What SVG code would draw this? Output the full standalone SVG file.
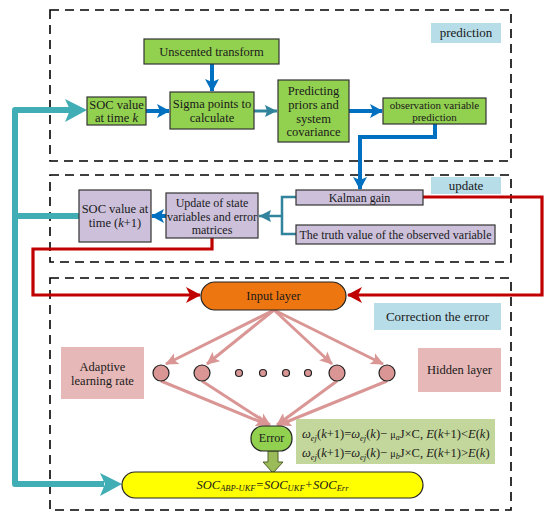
<svg xmlns="http://www.w3.org/2000/svg" width="550" height="517" viewBox="0 0 550 517" font-family="'Liberation Serif', 'DejaVu Serif', serif">
<defs>
<style>
text{font-family:'Liberation Serif','DejaVu Serif',serif;fill:#1a1a1a}
.dash{fill:none;stroke:#000;stroke-width:1.6;stroke-dasharray:9,6}
.g{fill:#92d050;stroke:#333;stroke-width:1.2}
.p{fill:#ccc0da;stroke:#333;stroke-width:1.2}
.lb{fill:#b7dde8}
.blue{fill:none;stroke:#0070c0;stroke-width:4}
.red{fill:none;stroke:#c00000;stroke-width:3.2}
.teal{fill:none;stroke:#41adb4;stroke-width:6;stroke-linejoin:round}
.pink{fill:none;stroke:#d99694;stroke-width:3}
.neu{fill:#d99694;stroke:#222;stroke-width:1.2}
</style>
<marker id="ab" markerUnits="userSpaceOnUse" markerWidth="14" markerHeight="14" refX="12" refY="7" orient="auto"><path d="M0,0 L13,7 L0,14 L3,7 Z" fill="#0070c0"/></marker>
<marker id="at" markerUnits="userSpaceOnUse" markerWidth="14" markerHeight="14" refX="12" refY="7" orient="auto"><path d="M0,1 L12,7 L0,13 L2,7 Z" fill="#31849b"/></marker>
<marker id="ar" markerUnits="userSpaceOnUse" markerWidth="16" markerHeight="16" refX="14" refY="8" orient="auto"><path d="M0,0 L15,8 L0,16 L4,8 Z" fill="#c00000"/></marker>
<marker id="ap" markerUnits="userSpaceOnUse" markerWidth="14" markerHeight="14" refX="12" refY="7" orient="auto"><path d="M0,1 L13,7 L0,13 L3,7 Z" fill="#d99694"/></marker>
</defs>
<rect width="550" height="517" fill="#fff"/>

<rect class="dash" x="50" y="10" width="461" height="151"/>
<rect class="dash" x="50" y="175" width="461" height="87"/>
<rect class="dash" x="50" y="278" width="461" height="232"/>

<g id="connectors">
<path class="teal" d="M72,110 L15,110 L15,484 L104,484"/>
<path class="teal" d="M82,216 L15,216" stroke-linecap="round"/>
<path d="M65,99 L87,110 L65,122 L70,110 Z" fill="#41adb4"/>
<path d="M100,473 L122,484 L100,496 L105,484 Z" fill="#41adb4"/>
<line class="blue" x1="212" y1="64" x2="212" y2="91" marker-end="url(#ab)"/>
<line class="blue" x1="146" y1="111" x2="169" y2="111" marker-end="url(#ab)"/>
<line x1="254" y1="111" x2="277" y2="111" stroke="#31849b" stroke-width="3" marker-end="url(#at)"/>
<line class="blue" x1="349" y1="111" x2="382" y2="111" marker-end="url(#ab)"/>
<path class="blue" d="M435,124 L435,137 L360,137 L360,189" marker-end="url(#ab)"/>
<path d="M296,197 L282,197 L282,234 L296,234" fill="none" stroke="#31849b" stroke-width="2.5"/>
<line x1="282" y1="216" x2="259" y2="216" stroke="#31849b" stroke-width="2.5" marker-end="url(#at)"/>
<line class="blue" x1="166" y1="216" x2="152" y2="216" marker-end="url(#ab)"/>
<path class="red" d="M212,238 L212,249 L33,249 L33,295 L200,295" marker-end="url(#ar)"/>
<path class="red" d="M423,197 L542,197 L542,295 L348,295" marker-end="url(#ar)"/>
<line class="pink" x1="274" y1="310" x2="166" y2="364" marker-end="url(#ap)"/>
<line class="pink" x1="274" y1="310" x2="207" y2="364" marker-end="url(#ap)"/>
<line class="pink" x1="274" y1="310" x2="332" y2="364" marker-end="url(#ap)"/>
<line class="pink" x1="274" y1="310" x2="383" y2="364" marker-end="url(#ap)"/>
<line class="pink" x1="161" y1="381" x2="268" y2="425" marker-end="url(#ap)"/>
<line class="pink" x1="202" y1="381" x2="270" y2="425" marker-end="url(#ap)"/>
<line class="pink" x1="337" y1="381" x2="277" y2="425" marker-end="url(#ap)"/>
<line class="pink" x1="387" y1="381" x2="279" y2="425" marker-end="url(#ap)"/>
<path d="M268,451 L278,451 L278,462 L283,462 L273,473 L263,462 L268,462 Z" fill="#9bbb59" stroke="#4f6228" stroke-width="1"/>
</g>

<g id="n_unscented"><rect class="g" x="144" y="39" width="135" height="25"/><text x="211.5" y="56" font-size="12.5" text-anchor="middle">Unscented  transform</text></g>
<g id="n_sock"><rect class="g" x="87" y="97" width="59" height="28"/><text x="116.5" y="109" font-size="12.5" text-anchor="middle">SOC value</text><text x="116.5" y="122" font-size="12.5" text-anchor="middle">at time <tspan font-style="italic">k</tspan></text></g>
<g id="n_sigma"><rect class="g" x="170" y="92" width="84" height="37"/><text x="212" y="108" font-size="12.5" text-anchor="middle">Sigma points to</text><text x="212" y="122" font-size="12.5" text-anchor="middle">calculate</text></g>
<g id="n_predict"><rect class="g" x="278" y="80" width="71" height="62"/><text x="313.5" y="95" font-size="12.5" text-anchor="middle">Predicting</text><text x="313.5" y="109" font-size="12.5" text-anchor="middle">priors and</text><text x="313.5" y="123" font-size="12.5" text-anchor="middle">system</text><text x="313.5" y="136" font-size="12.5" text-anchor="middle">covariance</text></g>
<g id="n_obs"><rect class="g" x="383" y="98" width="103" height="26"/><text x="434.5" y="109" font-size="11" text-anchor="middle">observation variable</text><text x="434.5" y="121" font-size="11" text-anchor="middle">prediction</text></g>
<g id="l_prediction"><rect class="lb" x="431" y="23" width="70" height="20"/><text x="466" y="37" font-size="13" text-anchor="middle">prediction</text></g>

<g id="n_kalman"><rect class="p" x="296" y="190" width="127" height="15"/><text x="359.5" y="201.5" font-size="12" text-anchor="middle">Kalman gain</text></g>
<g id="n_truth"><rect class="p" x="296" y="225" width="199" height="19"/><text x="395.5" y="238.5" font-size="12" text-anchor="middle">The truth value of the observed variable</text></g>
<g id="l_update"><rect class="lb" x="431" y="177" width="70" height="17"/><text x="466" y="190" font-size="13" text-anchor="middle">update</text></g>
<g id="n_updatestate"><rect class="p" x="166" y="193" width="92" height="45"/><text x="212" y="207" font-size="12" text-anchor="middle">Update of state</text><text x="212" y="221" font-size="12" text-anchor="middle">variables and error</text><text x="212" y="234" font-size="12" text-anchor="middle">matrices</text></g>
<g id="n_sock1"><rect class="p" x="79" y="190" width="72" height="52"/><text x="115" y="213" font-size="12.5" text-anchor="middle">SOC value at</text><text x="115" y="227" font-size="12.5" text-anchor="middle">time (<tspan font-style="italic">k</tspan>+1)</text></g>

<g id="n_input"><rect x="201" y="282" width="145" height="28" rx="14" fill="#ee7611" stroke="#222" stroke-width="1.2"/><text x="273.5" y="300" font-size="12.5" text-anchor="middle">Input layer</text></g>
<g id="l_correction"><rect class="lb" x="374" y="303" width="127" height="27"/><text x="437.5" y="321" font-size="13" text-anchor="middle">Correction the error</text></g>
<g id="n_adaptive"><rect x="61" y="347" width="83" height="52" fill="#e6b8b7"/><text x="102.5" y="371" font-size="12.5" text-anchor="middle">Adaptive</text><text x="102.5" y="385" font-size="12.5" text-anchor="middle">learning rate</text></g>
<g id="n_hidden"><rect x="418" y="348" width="83" height="44" fill="#e6b8b7"/><text x="459.5" y="374" font-size="12.5" text-anchor="middle">Hidden layer</text></g>
<g id="n_neurons">
<circle class="neu" cx="161" cy="373" r="8"/>
<circle class="neu" cx="202" cy="373" r="8"/>
<circle class="neu" cx="239" cy="373" r="3.5"/>
<circle class="neu" cx="263" cy="373" r="3.5"/>
<circle class="neu" cx="286" cy="373" r="3.5"/>
<circle class="neu" cx="308" cy="373" r="3.5"/>
<circle class="neu" cx="337" cy="373" r="8"/>
<circle class="neu" cx="387" cy="373" r="8"/>
</g>
<g id="n_error"><rect x="251" y="426" width="41" height="25" rx="12" fill="#92d050" stroke="#222" stroke-width="1.2"/><text x="271.5" y="442" font-size="12" text-anchor="middle">Error</text></g>
<g id="n_formula"><rect x="296" y="419" width="199" height="45" fill="#c3d69b"/>
<text x="302" y="438" font-size="12.5"><tspan font-style="italic">ω</tspan><tspan font-size="8.5" font-style="italic" dy="3">ej</tspan><tspan dy="-3">(</tspan><tspan font-style="italic">k</tspan>+1)=<tspan font-style="italic">ω</tspan><tspan font-size="8.5" font-style="italic" dy="3">ej</tspan><tspan dy="-3">(</tspan><tspan font-style="italic">k</tspan>)− <tspan font-size="10">μ</tspan><tspan font-size="8" font-style="italic" dy="2">a</tspan><tspan dy="-2">J×C, </tspan><tspan font-style="italic">E</tspan>(<tspan font-style="italic">k</tspan>+1)&lt;<tspan font-style="italic">E</tspan>(<tspan font-style="italic">k</tspan>)</text>
<text x="302" y="457" font-size="12.5"><tspan font-style="italic">ω</tspan><tspan font-size="8.5" font-style="italic" dy="3">ej</tspan><tspan dy="-3">(</tspan><tspan font-style="italic">k</tspan>+1)=<tspan font-style="italic">ω</tspan><tspan font-size="8.5" font-style="italic" dy="3">ej</tspan><tspan dy="-3">(</tspan><tspan font-style="italic">k</tspan>)− <tspan font-size="10">μ</tspan><tspan font-size="8" font-style="italic" dy="2">b</tspan><tspan dy="-2">J×C, </tspan><tspan font-style="italic">E</tspan>(<tspan font-style="italic">k</tspan>+1)&gt;<tspan font-style="italic">E</tspan>(<tspan font-style="italic">k</tspan>)</text>
</g>
<g id="n_output"><rect x="122" y="472" width="301" height="26" rx="13" fill="#ffff00" stroke="#222" stroke-width="1.2"/><text x="272.5" y="489" font-size="12.5" font-style="italic" text-anchor="middle">SOC<tspan font-size="8.5" dy="2">ABP-UKF</tspan><tspan dy="-2">=SOC</tspan><tspan font-size="8.5" dy="2">UKF</tspan><tspan dy="-2">+SOC</tspan><tspan font-size="8.5" dy="2">Err</tspan></text></g>
</svg>
